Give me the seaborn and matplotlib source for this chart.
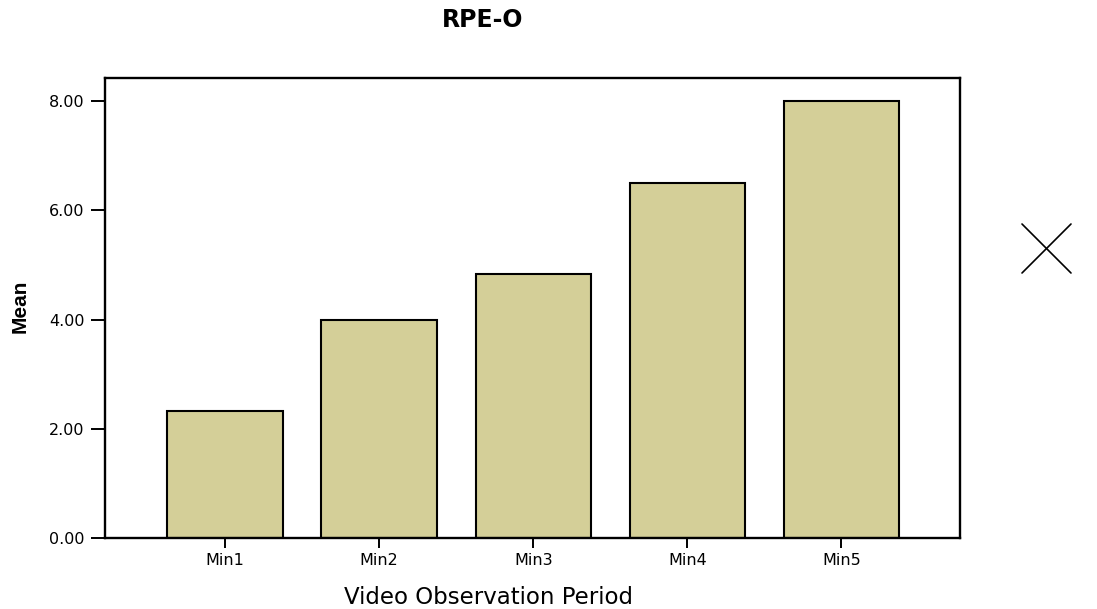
import matplotlib
matplotlib.use("Agg")
import matplotlib.pyplot as plt
import seaborn as sns
import pandas as pd
from matplotlib.lines import Line2D

categories = ["Min1", "Min2", "Min3", "Min4", "Min5"]
means = [2.33, 4.00, 4.83, 6.50, 8.00]
yticks = [0.0, 2.0, 4.0, 6.0, 8.0]
ytick_labels = ["0.00", "2.00", "4.00", "6.00", "8.00"]

sns.set_style("white")
plt.rcParams['font.family'] = ['DejaVu Sans']
plt.rcParams['text.color'] = 'black'
plt.rcParams['xtick.color'] = 'black'
plt.rcParams['ytick.color'] = 'black'

df = pd.DataFrame({"period": categories, "mean": means})

fig = plt.figure(figsize=(10.97, 6.09), dpi=100)
ax = fig.add_axes([105/1097, 71/609, 855/1097, 460/609])

sns.barplot(data=df, x="period", y="mean", ax=ax, color="#D4CF98",
            saturation=1, width=0.75, edgecolor="black", linewidth=1.5)

ax.set_xlim(-0.78, 4.77)
ax.set_ylim(0, 8.425)
ax.set_yticks(yticks)
ax.set_yticklabels(ytick_labels)
ax.set_xlabel("")
ax.set_ylabel("")
for s in ax.spines.values():
    s.set_visible(True)
    s.set_color("black")
    s.set_linewidth(1.7)
ax.tick_params(axis="y", direction="out", length=10, width=1.4, colors="black",
               labelsize=11.5, pad=4.5, left=True)
ax.tick_params(axis="x", direction="out", length=7, width=1.4, colors="black",
               labelsize=11.5, pad=4, bottom=True)

fig.text(483/1097, 1 - 20/609, "RPE-O", ha="center", va="center",
         fontsize=17, fontweight="bold")
fig.text(488/1097, 1 - 598/609, "Video Observation Period", ha="center",
         va="center", fontsize=16.5)
fig.text(20/1097, 1 - 306/609, "Mean", ha="center", va="center",
         rotation=90, fontsize=15, fontweight="bold",
         family=['Liberation Sans Narrow', 'Liberation Sans', 'DejaVu Sans'])

fig.add_artist(Line2D([1022/1097, 1071/1097], [1 - 224/609, 1 - 273/609],
                      color="black", linewidth=1.2))
fig.add_artist(Line2D([1022/1097, 1071/1097], [1 - 273/609, 1 - 224/609],
                      color="black", linewidth=1.2))

fig.savefig("out.png", dpi=100, facecolor="white")
